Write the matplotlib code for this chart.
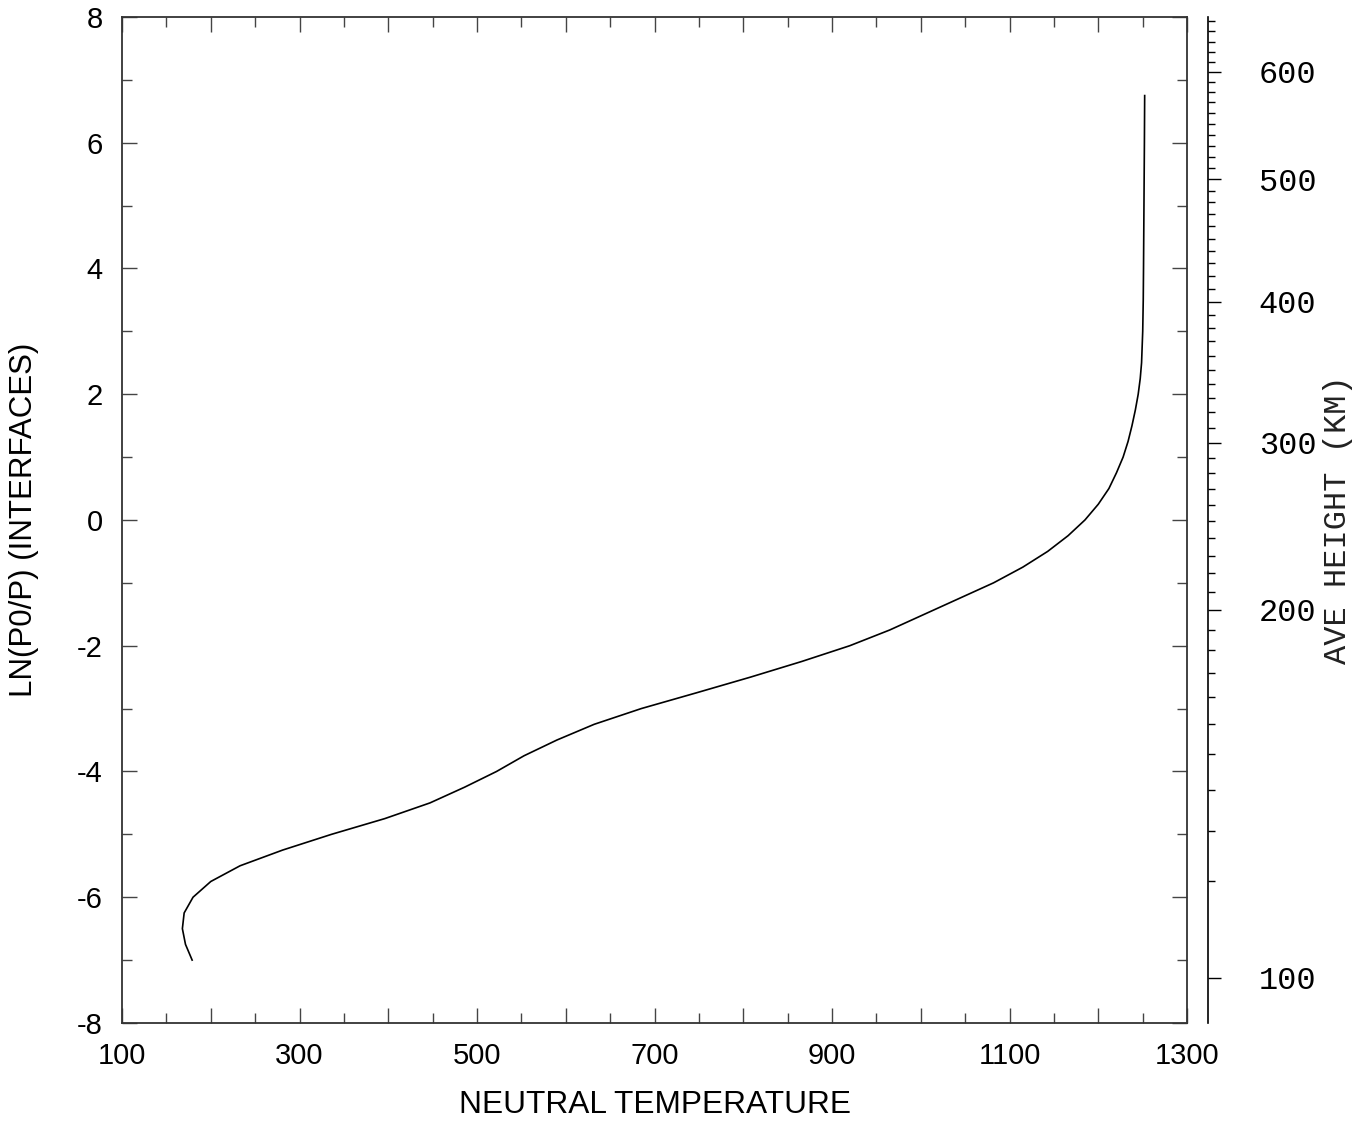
import matplotlib
matplotlib.use("Agg")
import matplotlib.pyplot as plt
from matplotlib.ticker import MultipleLocator, NullFormatter

# neutral temperature profile
lnp = [-7.0, -6.75, -6.5, -6.25, -6.0, -5.75, -5.5, -5.25, -5.0, -4.75,
       -4.5, -4.25, -4.0, -3.75, -3.5, -3.25, -3.0, -2.75, -2.5, -2.25,
       -2.0, -1.75, -1.5, -1.25, -1.0, -0.75, -0.5, -0.25, 0.0, 0.25,
       0.5, 0.75, 1.0, 1.25, 1.5, 1.75, 2.0, 2.25, 2.5, 3.0, 3.5,
       4.0, 5.0, 6.0, 6.75]
tn = [179, 171.5, 168, 170, 180, 200, 233, 281, 336, 396,
      447, 486, 522, 553, 590, 632, 685, 747, 808, 866,
      920, 965, 1004, 1043, 1082, 1115, 1143, 1166, 1185, 1200,
      1212, 1220.5, 1228, 1233.6, 1238, 1241.8, 1245, 1247.3, 1248.8, 1250.1, 1250.7,
      1251, 1251.5, 1252, 1252.3]

# average height (km) ticks and their ln(p0/p) positions
height_km = list(range(100, 660, 10))
height_lnp = [-7.28, -5.74, -4.94, -4.29, -3.73, -3.25, -2.82, -2.44, -2.07, -1.75,
              -1.43, -1.14, -0.85, -0.57, -0.29, -0.02, 0.24, 0.49, 0.74, 0.99,
              1.23, 1.47, 1.71, 1.94, 2.16, 2.39, 2.61, 2.84, 3.05, 3.26,
              3.47, 3.68, 3.88, 4.08, 4.28, 4.47, 4.67, 4.86, 5.05, 5.24,
              5.42, 5.60, 5.78, 5.95, 6.12, 6.30, 6.47, 6.64, 6.80, 6.97,
              7.13, 7.29, 7.45, 7.61, 7.77, 7.93]

xticks = [100, 300, 500, 700, 900, 1100, 1300]
yticks = [-8, -6, -4, -2, 0, 2, 4, 6, 8]

plt.rcParams['font.family'] = ['Liberation Sans', 'DejaVu Sans']
plt.rcParams['axes.unicode_minus'] = False

fig = plt.figure(figsize=(13.65, 11.25), dpi=100)
ax = fig.add_axes([0.0894, 0.0907, 0.7802, 0.8942])

ax.plot(tn, lnp, color="black", lw=1.2)

ax.set_xlim(100, 1300)
ax.set_ylim(-8, 8)

# x: ticks every 100 (long), every 50 (short), labels every 200
ax.set_xticks(list(range(100, 1301, 100)))
ax.set_xticklabels([str(v) if v in xticks else "" for v in range(100, 1301, 100)])
ax.xaxis.set_minor_locator(MultipleLocator(50))
ax.set_yticks(yticks)
ax.yaxis.set_minor_locator(MultipleLocator(1))

ax.tick_params(which="both", direction="in", top=True, right=True,
               color="#444444", width=1.0, labelsize=21, pad=14)
ax.tick_params(which="major", length=11)
ax.tick_params(which="minor", length=7.5)
for sp in ax.spines.values():
    sp.set_linewidth(1.3)
    sp.set_color("#333333")

ax.set_xlabel("NEUTRAL TEMPERATURE", fontsize=22.8, labelpad=14)
ax.set_ylabel("LN(P0/P) (INTERFACES)", fontsize=22.5, labelpad=27)

# separate height axis on the right
x_right = 1208 / 1365
ax2 = fig.add_axes([x_right - 0.01, 0.0907, 0.01, 0.8942])
ax2.set_ylim(-8, 8)
ax2.set_xticks([])
for name in ["left", "top", "bottom"]:
    ax2.spines[name].set_visible(False)
ax2.spines["right"].set_linewidth(1.2)
ax2.patch.set_visible(False)
ax2.yaxis.tick_right()
ax2.yaxis.set_label_position("right")

major_pos = [p for h, p in zip(height_km, height_lnp) if h % 100 == 0]
major_lab = [str(h) for h in height_km if h % 100 == 0]
minor_pos = [p for h, p in zip(height_km, height_lnp) if h % 100 != 0]
ax2.set_yticks(major_pos)
ax2.set_yticklabels(major_lab, family="Liberation Mono")
ax2.set_yticks(minor_pos, minor=True)
ax2.yaxis.set_minor_formatter(NullFormatter())
ax2.tick_params(which="both", direction="out", width=1.0, labelsize=23, pad=27)
ax2.tick_params(which="major", length=9.5)
ax2.tick_params(which="minor", length=5)
ax2.set_ylabel("AVE HEIGHT (KM)", fontsize=23, family="Liberation Mono",
               color="#222222", labelpad=5)

fig.savefig("out.png", dpi=100)
plt.close(fig)
